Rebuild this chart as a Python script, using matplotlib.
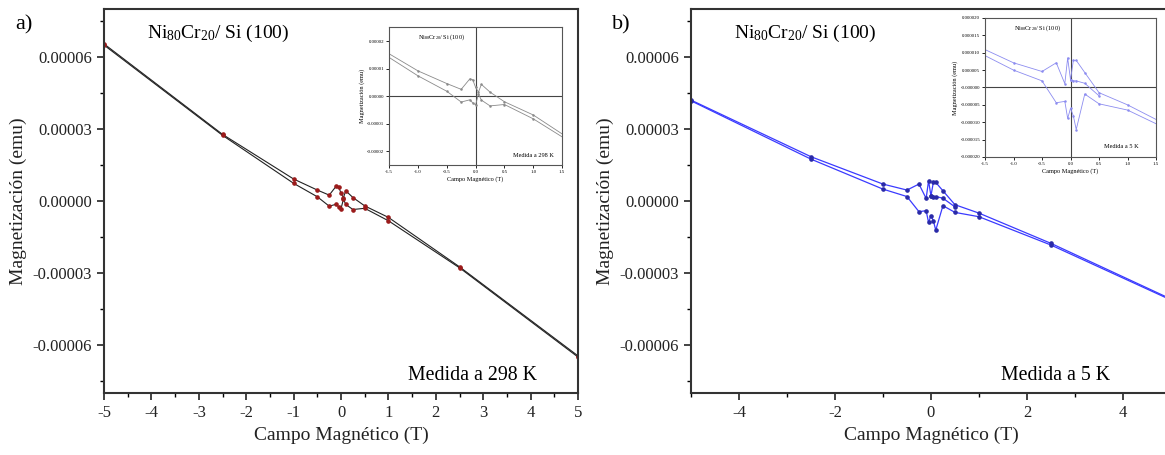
import matplotlib.pyplot as plt
import numpy as np

plt.rcParams['font.family'] = ['Liberation Serif', 'DejaVu Serif']
plt.rcParams['mathtext.fontset'] = 'custom'
plt.rcParams['mathtext.rm'] = 'Liberation Serif'
plt.rcParams['mathtext.it'] = 'Liberation Serif'
plt.rcParams['axes.unicode_minus'] = False

# field values (T) for each branch of the loops
field_a = [-5, -2.5, -1, -0.5, -0.25, -0.1, -0.05, 0, 0.05, 0.1, 0.25, 0.5, 1, 2.5, 5]
# magnetization, 298 K (units of 1e-5 emu)
upper_a = [6.55, 2.78, 0.92, 0.46, 0.25, 0.63, 0.60, 0.32, 0.15, 0.43, 0.15, -0.20, -0.68, -2.74, -6.45]
lower_a = [6.50, 2.74, 0.74, 0.18, -0.21, -0.13, -0.24, -0.31, 0.08, -0.14, -0.35, -0.30, -0.82, -2.78, -6.50]

field_b = [-5, -2.5, -1, -0.5, -0.25, -0.1, -0.05, 0, 0.05, 0.1, 0.25, 0.5, 1, 2.5, 5]
# magnetization, 5 K (units of 1e-5 emu)
upper_b = [4.21, 1.85, 0.71, 0.46, 0.71, 0.11, 0.85, 0.22, 0.78, 0.78, 0.43, -0.15, -0.50, -1.76, -4.08]
lower_b = [4.18, 1.75, 0.50, 0.19, -0.44, -0.40, -0.89, -0.60, -0.82, -1.21, -0.19, -0.47, -0.65, -1.83, -4.12]
middle_b_x = [0, 0.05, 0.1, 0.25, 0.5]
middle_b = [0.22, 0.19, 0.19, 0.12, -0.24]

upper_a = np.array(upper_a) * 1e-5
lower_a = np.array(lower_a) * 1e-5
upper_b = np.array(upper_b) * 1e-5
lower_b = np.array(lower_b) * 1e-5
middle_b = np.array(middle_b) * 1e-5

fig = plt.figure(figsize=(11.65, 4.55), dpi=100)

ax_a = fig.add_axes([0.0893, 0.136, 0.4069, 0.844])
ax_b = fig.add_axes([0.5931, 0.136, 0.412, 0.844])
in_a = fig.add_axes([0.334, 0.637, 0.1485, 0.303])
in_b = fig.add_axes([0.8455, 0.655, 0.1468, 0.3055])

ytick_main = [-6e-5, -3e-5, 0, 3e-5, 6e-5]
ytick_labels = ['-0.00006', '-0.00003', '0.00000', '0.00003', '0.00006']

for ax in [ax_a, ax_b]:
    ax.set_ylim(-8e-5, 8e-5)
    ax.set_xlim(-5, 5)
    ax.set_yticks(ytick_main)
    ax.set_yticklabels(ytick_labels)
    ax.set_yticks(np.arange(-7.5e-5, 8e-5, 1.5e-5), minor=True)
    ax.tick_params(direction='out', labelsize=12, length=5, width=1.2, colors='#222222')
    ax.tick_params(which='minor', direction='out', length=3, width=1)
    ax.set_xlabel('Campo Magnético (T)', fontsize=14, color='#222222')
    ax.set_ylabel('Magnetización (emu)', fontsize=14, color='#222222', labelpad=4)
    for s in ax.spines.values():
        s.set_linewidth(1.5)
        s.set_color('#333333')

ax_a.set_xticks(np.arange(-5, 6, 1))
ax_a.set_xticklabels([str(int(v)) for v in np.arange(-5, 6, 1)])
ax_a.set_xticks(np.arange(-4.5, 5, 1), minor=True)
ax_b.set_xticks([-4, -2, 0, 2, 4])
ax_b.set_xticks(np.arange(-5, 6, 1), minor=True)

# main panel a
for yy in [upper_a, lower_a]:
    ax_a.plot(field_a, yy, color='#222222', lw=0.8, marker='o', ms=2.3,
              mfc='#9b1b1b', mec='#9b1b1b')
ax_a.text(-4.1, 7.0e-5, r'Ni$_{80}$Cr$_{20}$/ Si (100)', fontsize=14, va='center')
ax_a.text(4.14, -7.25e-5, 'Medida a 298 K', fontsize=14.3, ha='right', va='center')
fig.text(0.013, 0.945, 'a)', fontsize=16, va='center')

# main panel b
for yy in [upper_b, lower_b]:
    ax_b.plot(field_b, yy, color='#3a3aff', lw=0.9, marker='o', ms=2.3,
              mfc='#2a2aa8', mec='#2a2aa8')
ax_b.plot(middle_b_x, middle_b, color='#3a3aff', lw=0.9, marker='o', ms=2.3,
          mfc='#2a2aa8', mec='#2a2aa8')
ax_b.text(-4.1, 7.0e-5, r'Ni$_{80}$Cr$_{20}$/ Si (100)', fontsize=14, va='center')
ax_b.text(3.73, -7.25e-5, 'Medida a 5 K', fontsize=14.3, ha='right', va='center')
fig.text(0.525, 0.945, 'b)', fontsize=16, va='center')

# insets
inset_xt = [-1.5, -1.0, -0.5, 0.0, 0.5, 1.0, 1.5]
for ax in [in_a, in_b]:
    ax.set_xlim(-1.5, 1.5)
    ax.set_xticks(inset_xt)
    ax.set_xticklabels(['%.1f' % v for v in inset_xt])
    ax.axvline(0, color='#444444', lw=0.8)
    ax.axhline(0, color='#444444', lw=0.8)
    ax.tick_params(direction='out', labelsize=3.5, length=2, width=0.6, pad=1.5)
    ax.tick_params(which='minor', direction='out', length=1.2, width=0.5)
    ax.set_xlabel('Campo Magnético (T)', fontsize=4.5, labelpad=1.5)
    ax.set_ylabel('Magnetización (emu)', fontsize=4.5, labelpad=1.5)
    for s in ax.spines.values():
        s.set_linewidth(0.8)
        s.set_color('#555555')

in_a.set_ylim(-2.5e-5, 2.5e-5)
in_a.set_yticks([-2e-5, -1e-5, 0, 1e-5, 2e-5])
in_a.set_yticklabels(['-0.00002', '-0.00001', '0.00000', '0.00001', '0.00002'])
for yy in [upper_a, lower_a]:
    in_a.plot(field_a, yy, color='#8a8a8a', lw=0.6, marker='o', ms=0.8)
in_a.text(-1.0, 2.15e-5, r'Ni$_{80}$Cr$_{20}$/ Si (100)', fontsize=4.5, va='center')
in_a.text(1.35, -2.15e-5, 'Medida a 298 K', fontsize=4.5, ha='right', va='center')

in_b.set_ylim(-2e-5, 2e-5)
in_b.set_yticks(np.arange(-2e-5, 2.1e-5, 5e-6))
in_b.set_yticklabels(['%.6f' % v for v in np.arange(-2e-5, 2.1e-5, 5e-6)])
for yy in [upper_b, lower_b]:
    in_b.plot(field_b, yy, color='#8c8cf0', lw=0.6, marker='o', ms=0.8)
in_b.plot(middle_b_x, middle_b, color='#8c8cf0', lw=0.6, marker='o', ms=0.8)
in_b.text(-1.0, 1.7e-5, r'Ni$_{80}$Cr$_{20}$/ Si (100)', fontsize=4.5, va='center')
in_b.text(1.2, -1.7e-5, 'Medida a 5 K', fontsize=4.5, ha='right', va='center')

plt.savefig('out.png', dpi=100)
